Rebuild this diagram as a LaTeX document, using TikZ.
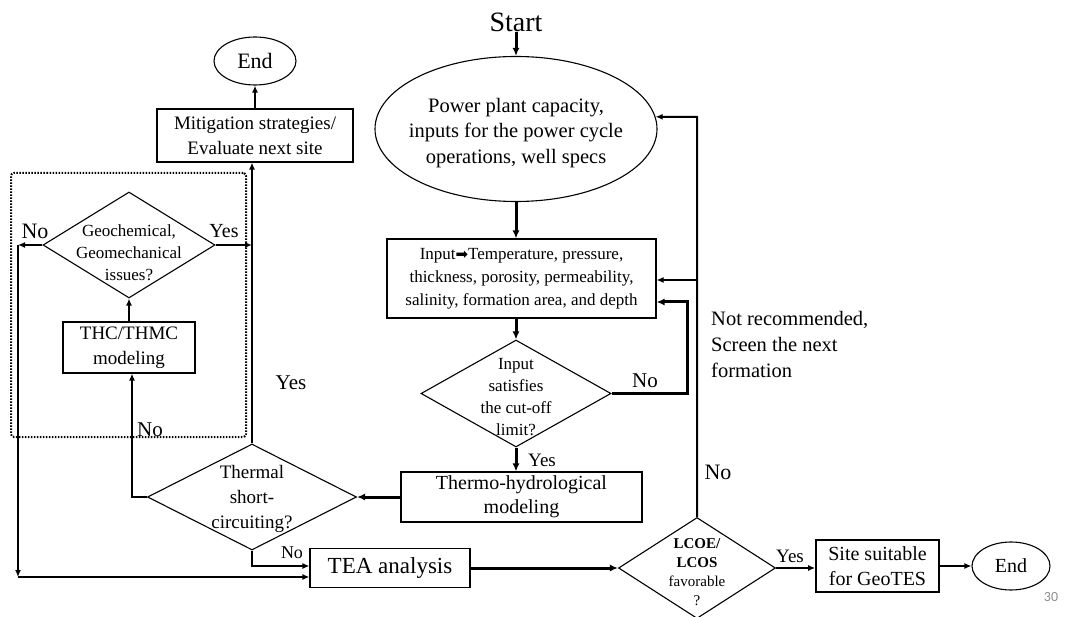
\documentclass[tikz,border=0pt]{standalone}
\usepackage{fontspec}
\setmainfont{Liberation Serif}
\newfontfamily\dejavu{DejaVu Sans}
\newfontfamily\pnum{Carlito}
\usetikzlibrary{shapes.geometric,arrows.meta}
\newcommand\myfs[2]{\fontsize{#1}{#2}\selectfont}
\begin{document}
\begin{tikzpicture}[x=1pt,y=-1pt,
  box/.style={draw, line width=1.1pt, rectangle, inner sep=0pt, align=center},
  ell/.style={draw, line width=1.1pt, ellipse, inner sep=0pt, align=center},
  dia/.style={draw, line width=1.1pt, diamond, inner sep=0pt},
  dtext/.style={align=center, inner sep=0pt},
  lbl/.style={inner sep=0pt},
  conn/.style={line width=2pt, -{Latex[length=7pt,width=6pt]}},
  bconn/.style={line width=3pt, -{Latex[length=8pt,width=7pt]}},
  grpbox/.style={draw, line width=2pt, dash pattern=on 1.5pt off 1.5pt, rounded corners=3pt, inner sep=0pt}]

\useasboundingbox (0,0) rectangle (1068,617);

% main column
\node[lbl, font=\myfs{28}{30}] (start) at (516,22) {Start};
\node[ell, minimum width=282pt, minimum height=145pt] (pp) at (516,129) {};
\node[dtext, font=\myfs{20.5}{25.5}] (ppt) at (516,133) {Power plant capacity,\\inputs for the power cycle\\operations, well specs};

\node[box, minimum width=269pt, minimum height=79pt, font=\myfs{17}{23}] (inp) at (521.5,278.5)
  {Input{\dejavu\myfs{15}{15}➡}Temperature, pressure,\\thickness, porosity, permeability,\\salinity, formation area, and depth};

\node[dia, minimum width=190pt, minimum height=107pt] (cut) at (516,393.5) {};
\node[dtext, font=\myfs{17}{22}] (cutt) at (516,397) {Input\\satisfies\\the cut-off\\limit?};

\node[box, minimum width=241pt, minimum height=50pt, font=\myfs{20}{24}] (thermo) at (521.5,497) {Thermo-hydrological\\modeling};

\node[dia, minimum width=209pt, minimum height=106pt] (thermal) at (252,497) {};
\node[dtext, font=\myfs{19}{25}] (thermalt) at (252,499) {Thermal\\short-\\circuiting?};

\node[box, minimum width=160pt, minimum height=39pt, font=\myfs{23}{25}] (tea) at (390,568) {TEA analysis};

\node[dia, minimum width=157pt, minimum height=101pt] (lcoe) at (697,568) {};
\node[dtext, font=\myfs{15}{19}] (lcoet) at (697,572) {\textbf{LCOE/}\\\textbf{LCOS}\\favorable\\?};

\node[box, line width=1.6pt, minimum width=123pt, minimum height=52pt, font=\myfs{20}{25}] (site) at (877.5,566) {Site suitable\\for GeoTES};
\node[ell, minimum width=78pt, minimum height=48pt, font=\myfs{20}{22}] (end2) at (1011,566) {End};

% left group
\node[grpbox, minimum width=235pt, minimum height=264pt] (grp) at (128.5,305) {};
\node[box, minimum width=132pt, minimum height=51pt, font=\myfs{19}{25}] (thc) at (129,347.5) {THC/THMC\\modeling};
\node[dia, minimum width=172pt, minimum height=106pt] (geo) at (129,245) {};
\node[dtext, font=\myfs{17}{22}] (geot) at (129,253) {Geochemical,\\Geomechanical\\issues?};

\node[box, minimum width=196pt, minimum height=53pt, font=\myfs{19}{25}] (mit) at (255,135.5) {Mitigation strategies/\\Evaluate next site};
\node[ell, minimum width=82pt, minimum height=48pt, font=\myfs{22}{24}] (end1) at (255,61) {End};

% coordinates
\coordinate (k1) at (687,393.5);
\coordinate (k2) at (687,302);
\coordinate (r1) at (697,117);
\coordinate (r2) at (697,280);
\coordinate (t1) at (132,497);
\coordinate (g1) at (18,245);
\coordinate (g2) at (18,577);
\coordinate (n1) at (252,566);

% connectors
\draw[bconn] (start) -- (pp);
\draw[bconn] (pp.south) -- (pp.south |- inp.north);
\draw[bconn] (cut.north |- inp.south) -- (cut.north);
\draw[bconn] (cut.south) -- (cut.south |- thermo.north);
\draw[bconn] (cut.east) -- (k1) -- (k2) -- (k2 -| inp.east);
\draw[conn] (lcoe.north) -- (r1) -- (pp.5);
\draw[conn] (r2) -- (r2 -| inp.east);
\draw[bconn] (thermo.west) -- (thermal.east);
\draw[conn] (thermal.west) -- (t1) -- (t1 |- thc.south);
\draw[conn] (thc.north) -- (geo.south);
\draw[conn] (geo.east) -- (geo.east -| thermal.north);
\draw[conn] (thermal.north) -- (thermal.north |- mit.south);
\draw[conn] (mit.north) -- (end1.south);
\draw[conn] (geo.west) -- (g1);
\draw[conn] (g1) -- (g2);
\draw[conn] (g2) -- (g2 -| tea.west);
\draw[conn] (thermal.south) -- (n1) -- (n1 -| tea.west);
\draw[bconn] (tea.east) -- (lcoe.west);
\draw[conn] (lcoe.east) -- (lcoe.east -| site.west);
\draw[conn] (site.east) -- (end2.west);

% labels
\node[lbl, font=\myfs{21}{23}] (lcutno) at (645,381) {No};
\node[lbl, font=\myfs{19}{21}] (lcutyes) at (542,460) {Yes};
\node[lbl, font=\myfs{22}{24}] (lgeono) at (35,231) {No};
\node[lbl, font=\myfs{20}{22}] (lgeoyes) at (224,231) {Yes};
\node[lbl, font=\myfs{21}{23}] (lthno) at (150,430) {No};
\node[lbl, font=\myfs{21}{23}] (lthyes) at (291,383) {Yes};
\node[lbl, font=\myfs{18}{20}] (lthno2) at (292,553) {No};
\node[lbl, font=\myfs{19}{21}] (llcyes) at (790,556) {Yes};
\node[lbl, font=\myfs{22}{24}] (llcno) at (718,472) {No};
\node[lbl, anchor=west, align=left, font=\myfs{20.5}{26}] (notrec) at (711,344) {Not recommended,\\Screen the next\\formation};
\node[lbl, font=\pnum\myfs{14}{16}, text=black!45] (pg) at (1051,597) {30};
\end{tikzpicture}
\end{document}
